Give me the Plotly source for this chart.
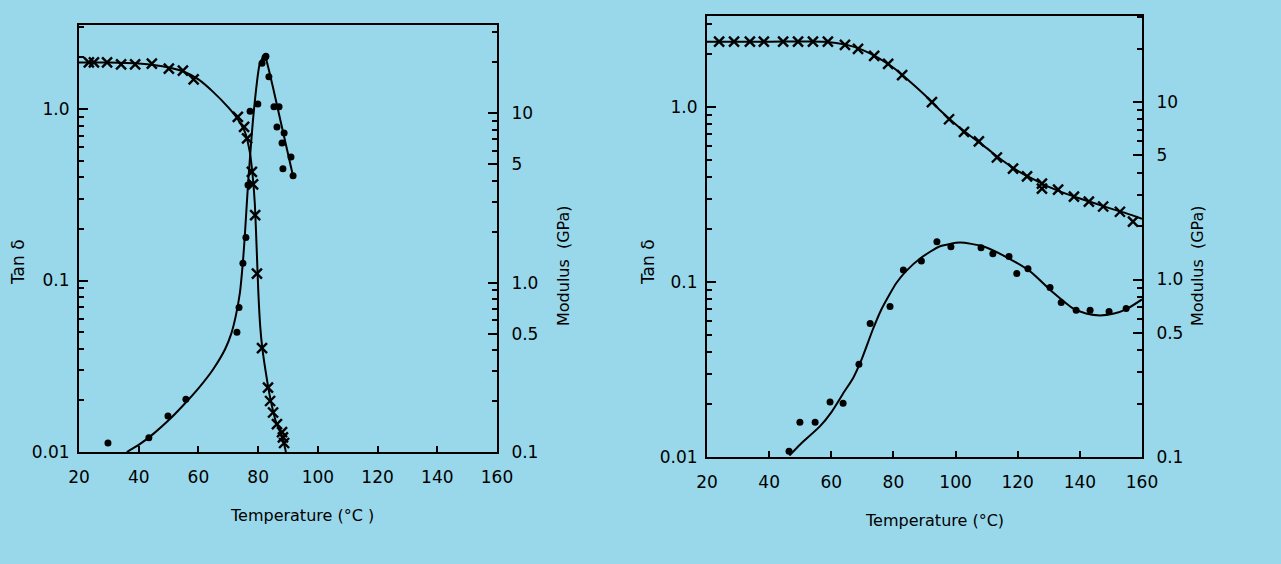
import plotly.graph_objects as go

# ---------------- Left panel data ----------------
# modulus (crosses, right axis, GPa)
L_mod_T = [23.3, 25.0, 29.4, 34.1, 38.8, 44.4, 50.1, 54.8, 58.4, 73.2, 75.3, 76.3,
           77.9, 78.3, 79.0, 79.6, 81.3, 83.3, 84.0, 85.0, 86.3, 88.0, 88.3, 88.7]
L_mod = [19.9, 19.9, 19.9, 19.4, 19.4, 19.6, 18.3, 17.8, 15.8, 9.5, 8.3, 7.1,
         4.5, 3.8, 2.5, 1.13, 0.41, 0.24, 0.20, 0.171, 0.146, 0.131, 0.122, 0.113]
L_mod_curve_T = [20, 30, 40, 50, 55, 60, 65, 70, 73, 75.5, 77.2, 78.2, 78.9, 79.5,
                 80.1, 80.7, 81.4, 82.5, 84, 86, 88, 89.3]
L_mod_curve = [19.9, 19.9, 19.6, 18.6, 17.6, 15.8, 13.3, 10.8, 9.3, 7.8, 5.9, 4.2, 2.9, 1.6,
               0.85, 0.55, 0.41, 0.30, 0.21, 0.15, 0.124, 0.1]
# tan delta (dots, left axis)
L_tan_T = [29.7, 43.4, 49.8, 55.8, 72.9, 73.6, 74.9, 75.9, 76.6, 77.3, 79.9, 81.3, 82.3,
           82.6, 83.6, 85.3, 87.0, 86.3, 88.7, 88.0, 91.0, 88.3, 91.7]
L_tan = [0.0113, 0.0121, 0.0162, 0.0203, 0.0499, 0.0697, 0.126, 0.178, 0.361, 0.97, 1.07,
         1.85, 2.0, 2.03, 1.54, 1.03, 1.03, 0.785, 0.724, 0.634, 0.526, 0.448, 0.408]
L_tan_curve_T = [36.0, 40, 45, 50, 55, 60, 65, 69, 71, 72.5, 73.9, 75, 75.6, 76.6, 78.6,
                 80.6, 82.2, 83.2, 85, 88, 91.7]
L_tan_curve = [0.0100, 0.0110, 0.0128, 0.0153, 0.0188, 0.0235, 0.0305, 0.040, 0.049, 0.062,
               0.085, 0.135, 0.19, 0.36, 0.99, 1.85, 2.05, 1.8, 1.33, 0.78, 0.405]

# ---------------- Right panel data ----------------
R_mod_T = [23.9, 28.7, 33.8, 38.3, 44.5, 49.3, 54.1, 58.9, 64.4, 68.6, 73.8, 78.3, 82.8,
           92.4, 97.9, 102.7, 107.5, 113.3, 118.5, 123.0, 127.8, 127.8, 133.0, 138.1,
           142.9, 147.5, 152.9, 157.1]
R_mod = [21.9, 21.9, 21.9, 21.9, 21.9, 21.9, 21.9, 21.9, 21.0, 19.95, 18.2, 16.4, 14.2,
         10.0, 8.0, 6.8, 6.0, 4.87, 4.22, 3.81, 3.47, 3.25, 3.21, 2.93, 2.75, 2.58, 2.41, 2.12]
R_mod_curve_T = [20, 40, 58, 65, 70, 75, 80, 85, 90, 95, 100, 105, 110, 115, 120, 125,
                 130, 135, 140, 145, 150, 155, 160]
R_mod_curve = [21.9, 21.9, 21.9, 21.0, 19.7, 17.8, 15.6, 13.2, 11.0, 9.0, 7.5, 6.4, 5.5,
               4.7, 4.1, 3.68, 3.33, 3.07, 2.86, 2.68, 2.51, 2.36, 2.2]
R_tan_T = [46.4, 49.9, 54.8, 59.6, 63.8, 68.9, 72.5, 78.9, 83.2, 89.0, 94.0, 98.5, 108.2,
           112.0, 117.2, 119.7, 123.3, 130.4, 134.0, 138.8, 143.3, 149.4, 154.9]
R_tan = [0.0108, 0.0158, 0.0158, 0.0206, 0.0203, 0.0339, 0.058, 0.0725, 0.117, 0.132,
         0.170, 0.159, 0.157, 0.145, 0.140, 0.112, 0.119, 0.093, 0.0764, 0.0689, 0.0689,
         0.0679, 0.0706]
R_tan_curve_T = [46.5, 50, 56.4, 60, 64.1, 67, 69.6, 73.4, 76, 78.6, 81, 84, 89, 95, 101.4,
                 108.8, 116.6, 124, 131.4, 137.8, 142, 146.5, 151, 155, 160]
R_tan_curve = [0.0102, 0.0118, 0.015, 0.018, 0.0235, 0.0282, 0.0355, 0.0537, 0.069, 0.084,
               0.099, 0.115, 0.138, 0.160, 0.168, 0.160, 0.138, 0.115, 0.087, 0.0706, 0.066,
               0.0644, 0.066, 0.070, 0.0795]

x_ticks = [20, 40, 60, 80, 100, 120, 140, 160]
tan_ticks = [0.01, 0.1, 1.0]
tan_ticktext = ["0.01", "0.1", "1.0"]
mod_ticks = [0.1, 0.5, 1.0, 5, 10]
mod_ticktext = ["0.1", "0.5", "1.0", "5", "10"]
tan_minor = [0.02, 0.03, 0.04, 0.05, 0.06, 0.07, 0.08, 0.09,
             0.2, 0.3, 0.4, 0.5, 0.6, 0.7, 0.8, 0.9, 2, 3]
mod_minor = [0.2, 0.3, 0.4, 0.6, 0.7, 0.8, 0.9, 2, 3, 4, 6, 7, 8, 9, 20, 30]

BG = "#98D8EA"
FONT = "DejaVu Sans"
W, H = 1281, 564

fig = go.Figure()

line = dict(color="black", width=2, shape="spline", smoothing=0.6)
cross = dict(symbol="x-thin", size=10, line=dict(color="black", width=2.4), color="black")
dot = dict(symbol="circle", size=7, color="black")

# left panel
fig.add_trace(go.Scatter(x=L_mod_curve_T, y=L_mod_curve, mode="lines", line=line,
                         xaxis="x", yaxis="y2"))
fig.add_trace(go.Scatter(x=L_mod_T, y=L_mod, mode="markers", marker=cross,
                         xaxis="x", yaxis="y2"))
fig.add_trace(go.Scatter(x=L_tan_curve_T, y=L_tan_curve, mode="lines", line=line,
                         xaxis="x", yaxis="y"))
fig.add_trace(go.Scatter(x=L_tan_T, y=L_tan, mode="markers", marker=dot,
                         xaxis="x", yaxis="y"))
# right panel
fig.add_trace(go.Scatter(x=R_mod_curve_T, y=R_mod_curve, mode="lines", line=line,
                         xaxis="x2", yaxis="y4"))
fig.add_trace(go.Scatter(x=R_mod_T, y=R_mod, mode="markers", marker=cross,
                         xaxis="x2", yaxis="y4"))
fig.add_trace(go.Scatter(x=R_tan_curve_T, y=R_tan_curve, mode="lines", line=line,
                         xaxis="x2", yaxis="y3"))
fig.add_trace(go.Scatter(x=R_tan_T, y=R_tan, mode="markers", marker=dot,
                         xaxis="x2", yaxis="y3"))

tickfont = dict(family=FONT, size=17, color="black")


def xax(domain, anchor):
    return dict(domain=domain, anchor=anchor, range=[20, 160], tickvals=x_ticks,
                ticks="inside", ticklen=6, tickwidth=1.5, tickcolor="black",
                showline=True, linecolor="black", linewidth=2, mirror=True,
                showgrid=False, zeroline=False, tickfont=tickfont, ticklabelstandoff=9,
                automargin=False)


def yax(domain, anchor, rng, tv, tt, minor_vals, side="left", overlay=None, standoff=4):
    d = dict(domain=domain, anchor=anchor, type="log", range=rng, tickvals=tv, ticktext=tt,
             ticks="inside", ticklen=9, tickwidth=2, tickcolor="black",
             minor=dict(tickmode="array", tickvals=minor_vals, ticks="inside", ticklen=5,
                        tickwidth=1.5, tickcolor="black", showgrid=False),
             showline=True, linecolor="black", linewidth=2, side=side,
             showgrid=False, zeroline=False, tickfont=tickfont, ticklabelstandoff=standoff,
             automargin=False)
    if overlay:
        d["overlaying"] = overlay
    return d


Ly = [(564 - 452) / 564, (564 - 25) / 564]
Ry = [(564 - 457) / 564, (564 - 16) / 564]
fig.update_layout(
    width=W, height=H, autosize=False,
    margin=dict(l=0, r=0, t=0, b=0, autoexpand=False),
    paper_bgcolor=BG, plot_bgcolor=BG, showlegend=False,
    xaxis=xax([79 / W, 497 / W], "y"),
    yaxis=yax(Ly, "x", [-2, 0.49], tan_ticks, tan_ticktext, tan_minor),
    yaxis2=yax(Ly, "x", [-1, 1.52], mod_ticks, mod_ticktext, mod_minor, side="right",
               overlay="y", standoff=9),
    xaxis2=xax([707 / W, 1142 / W], "y3"),
    yaxis3=yax(Ry, "x2", [-2, 0.52], tan_ticks, tan_ticktext, tan_minor),
    yaxis4=yax(Ry, "x2", [-1, 1.485], mod_ticks, mod_ticktext, mod_minor, side="right",
               overlay="y3", standoff=9),
)


def ann(text, px, py, angle=0, size=16):
    fig.add_annotation(text=text, x=px / W, y=1 - py / H, xref="paper", yref="paper",
                       showarrow=False, textangle=angle,
                       font=dict(family=FONT, size=size, color="black"),
                       xanchor="center", yanchor="middle")


ann("Tan δ", 18, 262, -90, 17)
ann("Modulus  (GPa)", 563, 266, -90)
ann("Temperature (°C )", 302, 515)
ann("Tan δ", 648, 262, -90, 17)
ann("Modulus  (GPa)", 1197, 266, -90)
ann("Temperature (°C)", 934, 520)

fig.write_html("out.html")
